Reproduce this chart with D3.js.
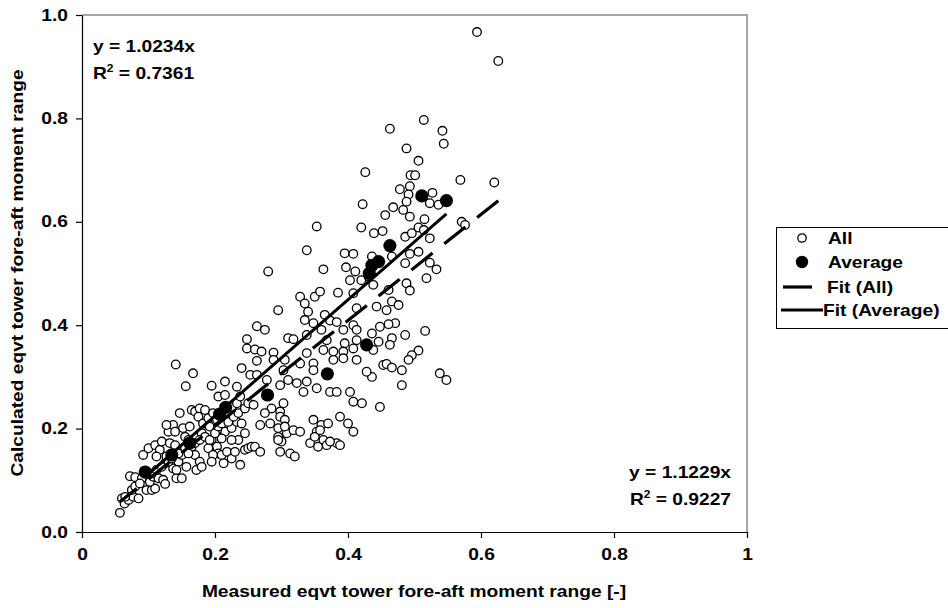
<!DOCTYPE html>
<html>
<head>
<meta charset="utf-8">
<script src="https://cdn.jsdelivr.net/npm/d3@7"></script>
<style>
  body { margin: 0; background: #fff; }
  text { font-family: "Liberation Sans", Arial, Helvetica, sans-serif; font-weight: bold; fill: #000; }
</style>
</head>
<body>
<svg id="chart" width="948" height="608"></svg>
<script>
// Measured vs calculated equivalent tower fore-aft moment range, [measured, calculated]
const allPoints = [
  [0.057,0.037],[0.060,0.065],[0.064,0.055],[0.070,0.062],[0.077,0.068],[0.085,0.065],[0.097,0.081],[0.105,0.081],
  [0.110,0.084],[0.072,0.108],[0.080,0.106],[0.090,0.104],[0.102,0.097],[0.107,0.107],[0.115,0.104],[0.122,0.101],
  [0.125,0.093],[0.142,0.104],[0.150,0.104],[0.092,0.149],[0.100,0.162],[0.110,0.168],[0.117,0.159],[0.112,0.146],
  [0.125,0.133],[0.127,0.146],[0.120,0.175],[0.132,0.172],[0.140,0.168],[0.130,0.194],[0.137,0.207],[0.127,0.207],
  [0.140,0.194],[0.147,0.230],[0.152,0.201],[0.155,0.184],[0.162,0.204],[0.160,0.178],[0.165,0.165],[0.170,0.149],
  [0.177,0.136],[0.172,0.120],[0.145,0.136],[0.137,0.123],[0.157,0.126],[0.165,0.236],[0.170,0.233],[0.177,0.239],
  [0.185,0.236],[0.175,0.223],[0.182,0.210],[0.190,0.220],[0.197,0.230],[0.190,0.194],[0.195,0.178],[0.203,0.165],
  [0.205,0.152],[0.213,0.133],[0.210,0.149],[0.218,0.155],[0.225,0.142],[0.238,0.130],[0.215,0.194],[0.225,0.201],
  [0.233,0.213],[0.240,0.210],[0.245,0.191],[0.245,0.159],[0.250,0.162],[0.255,0.165],[0.235,0.178],[0.225,0.178],
  [0.220,0.230],[0.225,0.242],[0.233,0.249],[0.238,0.262],[0.205,0.262],[0.215,0.265],[0.203,0.217],[0.190,0.162],
  [0.197,0.149],[0.137,0.152],[0.150,0.149],[0.155,0.162],[0.180,0.191],[0.192,0.204],[0.203,0.197],[0.210,0.181],
  [0.065,0.068],[0.075,0.081],[0.080,0.088],[0.087,0.094],[0.105,0.113],[0.112,0.120],[0.120,0.126],[0.130,0.136],
  [0.135,0.142],[0.145,0.152],[0.160,0.152],[0.170,0.172],[0.177,0.178],[0.185,0.184],[0.192,0.178],[0.200,0.191],
  [0.205,0.204],[0.210,0.210],[0.220,0.213],[0.228,0.223],[0.235,0.230],[0.245,0.239],[0.250,0.249],[0.258,0.246],
  [0.142,0.120],[0.180,0.126],[0.195,0.136],[0.230,0.155],[0.278,0.294],[0.298,0.284],
  [0.280,0.504],[0.363,0.508],[0.397,0.512],[0.403,0.487],[0.411,0.504],[0.328,0.455],[0.350,0.455],[0.358,0.465],
  [0.385,0.463],[0.408,0.462],[0.295,0.429],[0.335,0.442],[0.340,0.426],[0.413,0.433],[0.365,0.420],[0.373,0.409],
  [0.383,0.406],[0.335,0.410],[0.348,0.404],[0.263,0.398],[0.275,0.391],[0.360,0.391],[0.393,0.391],[0.408,0.400],
  [0.413,0.391],[0.248,0.373],[0.310,0.375],[0.318,0.373],[0.338,0.381],[0.368,0.371],[0.395,0.365],[0.413,0.371],
  [0.248,0.355],[0.260,0.353],[0.270,0.349],[0.288,0.347],[0.338,0.346],[0.363,0.352],[0.378,0.349],[0.393,0.349],
  [0.408,0.355],[0.288,0.333],[0.263,0.331],[0.305,0.333],[0.328,0.326],[0.348,0.326],[0.378,0.333],[0.393,0.336],
  [0.413,0.333],[0.240,0.317],[0.253,0.304],[0.263,0.304],[0.303,0.313],[0.348,0.313],[0.167,0.307],[0.215,0.291],
  [0.195,0.283],[0.233,0.281],[0.310,0.294],[0.323,0.288],[0.338,0.291],[0.333,0.271],[0.353,0.278],[0.373,0.271],
  [0.383,0.271],[0.403,0.271],[0.408,0.252],[0.303,0.249],[0.285,0.239],[0.298,0.233],[0.298,0.223],[0.305,0.217],
  [0.275,0.230],[0.268,0.207],[0.283,0.210],[0.295,0.201],[0.295,0.184],[0.300,0.175],[0.308,0.191],[0.318,0.197],
  [0.328,0.194],[0.348,0.217],[0.360,0.207],[0.370,0.210],[0.388,0.223],[0.400,0.210],[0.408,0.194],[0.353,0.194],
  [0.363,0.178],[0.368,0.168],[0.343,0.172],[0.355,0.165],[0.383,0.172],[0.298,0.155],[0.313,0.152],[0.295,0.178],
  [0.320,0.146],[0.260,0.165],[0.268,0.155],[0.350,0.184],[0.373,0.175],[0.388,0.168],[0.305,0.204],[0.141,0.324],
  [0.156,0.282],[0.358,0.197],
  [0.514,0.797],[0.463,0.780],[0.542,0.776],[0.544,0.751],[0.488,0.742],[0.506,0.718],[0.426,0.696],[0.494,0.690],
  [0.501,0.690],[0.569,0.681],[0.620,0.676],[0.478,0.663],[0.493,0.669],[0.527,0.656],[0.491,0.653],[0.523,0.636],
  [0.536,0.633],[0.488,0.639],[0.483,0.623],[0.468,0.628],[0.422,0.634],[0.456,0.613],[0.493,0.610],[0.515,0.605],
  [0.571,0.600],[0.576,0.594],[0.420,0.589],[0.439,0.578],[0.452,0.582],[0.486,0.571],[0.496,0.578],[0.506,0.589],
  [0.514,0.584],[0.523,0.568],[0.493,0.538],[0.506,0.542],[0.523,0.521],[0.533,0.508],[0.395,0.539],[0.408,0.538],
  [0.436,0.533],[0.466,0.533],[0.486,0.520],[0.518,0.491],[0.488,0.481],[0.420,0.487],[0.438,0.478],[0.353,0.591],
  [0.338,0.545],
  [0.431,0.494],[0.493,0.467],[0.461,0.468],[0.466,0.446],[0.476,0.439],[0.443,0.436],[0.458,0.429],[0.471,0.404],
  [0.461,0.402],[0.448,0.397],[0.486,0.381],[0.516,0.389],[0.436,0.384],[0.466,0.375],[0.463,0.362],[0.446,0.368],
  [0.438,0.352],[0.506,0.351],[0.496,0.342],[0.491,0.333],[0.453,0.323],[0.458,0.325],[0.466,0.318],[0.481,0.313],
  [0.481,0.284],[0.436,0.300],[0.428,0.310],[0.538,0.307],[0.548,0.294],[0.448,0.242],[0.421,0.249],
  [0.594,0.967],[0.626,0.911]
];

// Bin averages, [measured, calculated]
const averagePoints = [
  [0.095,0.116],[0.135,0.149],[0.162,0.172],[0.207,0.228],[0.216,0.241],[0.279,0.265],[0.369,0.306],
  [0.428,0.362],[0.432,0.500],[0.436,0.516],[0.446,0.523],[0.463,0.554],[0.511,0.650],[0.548,0.641]
];

// Trendlines through the origin
const fitAllSlope = 1.0234, fitAllR2 = 0.7361;
const fitAvgSlope = 1.1229, fitAvgR2 = 0.9227;

const xTicks = [0, 0.2, 0.4, 0.6, 0.8, 1];
const xTickLabels = ["0", "0.2", "0.4", "0.6", "0.8", "1"];
const yTicks = [0, 0.2, 0.4, 0.6, 0.8, 1.0];
const yTickLabels = ["0.0", "0.2", "0.4", "0.6", "0.8", "1.0"];

const legendItems = ["All", "Average", "Fit (All)", "Fit (Average)"];
const xTitle = "Measured eqvt tower fore-aft moment range [-]";
const yTitle = "Calculated eqvt tower fore-aft moment range";

const svg = d3.select("#chart");
const x = d3.scaleLinear().domain([0, 1]).range([82, 747]);
const y = d3.scaleLinear().domain([0, 1]).range([532, 15]);
const FS = 16, SX = 1.2;

// widen text horizontally around its anchor point
function widen(sel) {
  sel.each(function () {
    const t = d3.select(this);
    const ax = +t.attr("x") || 0, ay = +t.attr("y") || 0;
    t.attr("transform", `translate(${ax},${ay}) scale(${SX},1) translate(${-ax},${-ay})`);
  });
}

// plot frame: grey top and right edges
svg.append("path")
  .attr("d", `M${x(0)},${y(1)}H${x(1)}V${y(0)}`)
  .attr("fill", "none").attr("stroke", "#8a8a8a").attr("stroke-width", 1.5);

// axes
const gx = svg.append("g").attr("transform", `translate(0,${y(0)})`)
  .call(d3.axisBottom(x).tickValues(xTicks).tickFormat((d, i) => xTickLabels[i])
    .tickSize(6).tickSizeOuter(0).tickPadding(11));
const gy = svg.append("g").attr("transform", `translate(${x(0)},0)`)
  .call(d3.axisLeft(y).tickValues(yTicks).tickFormat((d, i) => yTickLabels[i])
    .tickSize(6).tickSizeOuter(0).tickPadding(8));
[gx, gy].forEach(g => {
  g.selectAll("path, line").attr("stroke", "#000").attr("stroke-width", 1.2);
  g.selectAll("text").attr("font-size", FS).attr("font-family", null).call(widen);
});

// all samples
svg.append("g").selectAll("circle").data(allPoints).join("circle")
  .attr("cx", d => x(d[0])).attr("cy", d => y(d[1])).attr("r", 4.3)
  .attr("fill", "#fff").attr("stroke", "#000").attr("stroke-width", 1.3);

// trendlines, drawn from the upper end so the dash pattern starts there
function fitPath(points, slope) {
  const [x0, x1] = d3.extent(points, d => d[0]);
  return d3.line()([[x(x1), y(slope * x1)], [x(x0), y(slope * x0)]]);
}
svg.append("path").attr("d", fitPath(allPoints, fitAllSlope))
  .attr("stroke", "#000").attr("stroke-width", 3.2).attr("stroke-dasharray", "27,15").attr("fill", "none");
svg.append("path").attr("d", fitPath(averagePoints, fitAvgSlope))
  .attr("stroke", "#000").attr("stroke-width", 3).attr("fill", "none");

// averages
svg.append("g").selectAll("circle").data(averagePoints).join("circle")
  .attr("cx", d => x(d[0])).attr("cy", d => y(d[1])).attr("r", 6.6).attr("fill", "#000");

// equation labels
function equation(xPos, yPos, anchor, slope, r2) {
  svg.append("text").attr("x", xPos).attr("y", yPos).attr("text-anchor", anchor)
    .attr("font-size", FS).text(`y = ${slope.toFixed(4)}x`).call(widen);
  const t = svg.append("text").attr("x", xPos).attr("y", yPos + 27).attr("text-anchor", anchor)
    .attr("font-size", FS);
  t.append("tspan").text("R");
  t.append("tspan").attr("font-size", 10).attr("dy", -7).text("2");
  t.append("tspan").attr("dy", 7).text(` = ${r2.toFixed(4)}`);
  t.call(widen);
}
equation(93, 52, "start", fitAllSlope, fitAllR2);
equation(731, 478, "end", fitAvgSlope, fitAvgR2);

// axis titles
svg.append("text").attr("x", 414).attr("y", 597).attr("text-anchor", "middle")
  .attr("font-size", FS).text(xTitle).call(widen);
svg.append("text").attr("text-anchor", "middle").attr("font-size", FS)
  .attr("transform", `translate(23,273) rotate(-90) scale(${SX},1)`).text(yTitle);

// legend
const lg = svg.append("g");
lg.append("rect").attr("x", 776.5).attr("y", 227.5).attr("width", 200).attr("height", 101)
  .attr("fill", "#fff").attr("stroke", "#000").attr("stroke-width", 1);
const rowY = [238, 262, 287, 310];
lg.append("circle").attr("cx", 802).attr("cy", rowY[0]).attr("r", 4.2)
  .attr("fill", "#fff").attr("stroke", "#000").attr("stroke-width", 1.3);
lg.append("circle").attr("cx", 802).attr("cy", rowY[1]).attr("r", 6.2).attr("fill", "#000");
lg.append("line").attr("x1", 783).attr("x2", 812).attr("y1", rowY[2]).attr("y2", rowY[2])
  .attr("stroke", "#000").attr("stroke-width", 3.2);
lg.append("line").attr("x1", 781).attr("x2", 823).attr("y1", rowY[3]).attr("y2", rowY[3])
  .attr("stroke", "#000").attr("stroke-width", 3);
const textX = [828, 828, 827, 823];
legendItems.forEach((name, i) => {
  lg.append("text").attr("x", textX[i]).attr("y", rowY[i] + 6).attr("font-size", FS)
    .text(name).call(widen);
});
</script>
</body>
</html>
